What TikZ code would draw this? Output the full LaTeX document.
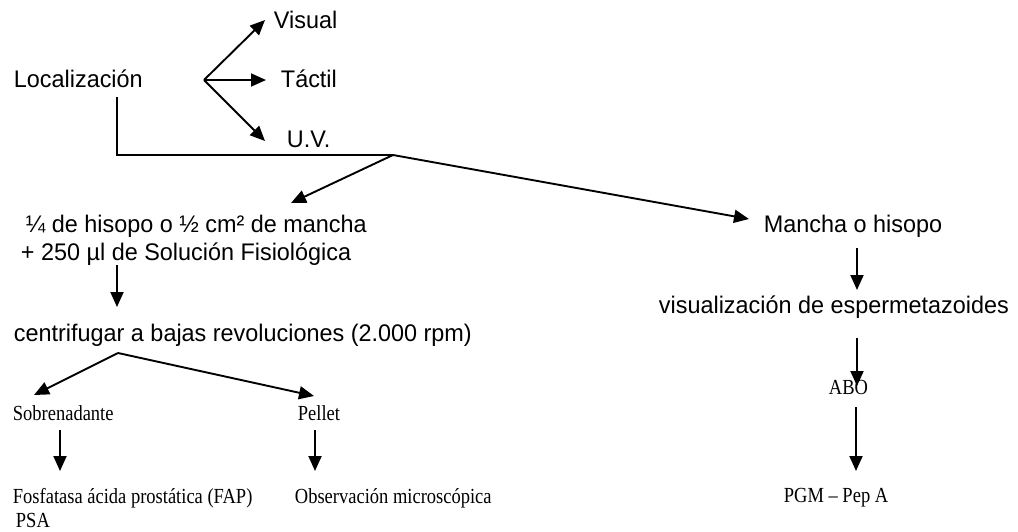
\documentclass[tikz,border=0pt]{standalone}
\usepackage{fontspec}
\setmainfont{Liberation Serif}[FakeStretch=0.86]
\newfontfamily\arialfont{Liberation Sans}[FakeStretch=0.975]
\usetikzlibrary{arrows.meta}

\begin{document}
\begin{tikzpicture}[x=1pt, y=-1pt, line width=1.9pt,
	sans/.style={inner sep=0pt, anchor=base west, font=\arialfont\fontsize{24}{28}\selectfont},
	serif/.style={inner sep=0pt, anchor=base west, font=\fontsize{21.5}{24}\selectfont},
	>={Triangle[length=15pt,width=13pt]}]
\useasboundingbox (0,0) rectangle (1018,531);

% top: localizacion
\node[sans] (loc) at (13,87) {Localización};
\node[sans] (vis) at (273,28) {Visual};
\node[sans] (tac) at (280,87) {Táctil};
\node[sans] (uv) at (286,147) {U.V.};
\coordinate (locsplit) at (204,80);
\draw[->] (locsplit) -- (265,20) coordinate (visend);
\draw[->] (locsplit) -- (266,80) coordinate (tacend);
\draw[->] (locsplit) -- (265,141) coordinate (uvend);

\coordinate (locdown) at (117,97);
\coordinate (corner) at (117,155);
\coordinate (split) at (393,155);
\draw (locdown) -- (corner) -- (split);

% left branch
\node[sans, align=left] (hisopo) at (20,260) {\hspace*{5pt}¼ de hisopo o ½ cm² de mancha\\+ 250 µl de Solución Fisiológica};
\node[sans] (centr) at (13,341) {centrifugar a bajas revoluciones (2.000 rpm)};
\coordinate (hisend) at (291,203);
\draw[->] (split) -- (hisend);
\draw[->] (117,265) coordinate (hisdown) -- (117,307) coordinate (centrtop);

\coordinate (centrsplit) at (118,353);
\node[serif] (sobr) at (12,420) {Sobrenadante};
\node[serif] (pell) at (297,420) {Pellet};
\draw[->] (centrsplit) -- (34,395) coordinate (sobrend);
\draw[->] (centrsplit) -- (314,396) coordinate (pellend);

\node[serif, align=left] (fap) at (12,527) {Fosfatasa ácida prostática (FAP)\\\hspace*{3pt}PSA};
\node[serif] (obs) at (294,503) {Observación microscópica};
\draw[->] (60,430) coordinate (sobrdown) -- (60,471) coordinate (fapend);
\draw[->] (315,430) coordinate (pelldown) -- (315,471) coordinate (obsend);

% right branch
\node[sans] (manch) at (763,232) {Mancha o hisopo};
\node[sans] (visu) at (658,313) {visualización de espermetazoides};
\node[serif] (abo) at (828,394) {ABO};
\node[serif] (pgm) at (783,502) {PGM -- Pep A};
\draw[->] (split) -- (749,219) coordinate (manchend);
\draw[->] (857,248) coordinate (manchdown) -- (857,290) coordinate (visuend);
\draw[->] (857,338) coordinate (visudown) -- (857,386) coordinate (aboend);
\draw[->] (856,407) coordinate (abodown) -- (856,471) coordinate (pgmend);
\end{tikzpicture}
\end{document}
